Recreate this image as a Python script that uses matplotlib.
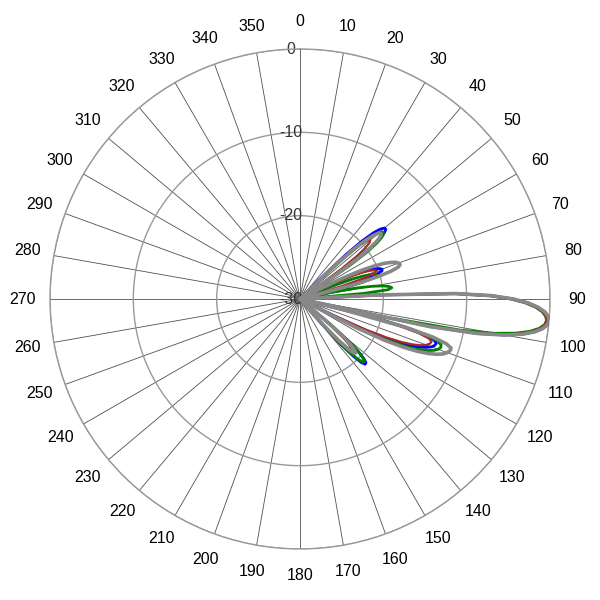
import numpy as np
import matplotlib
matplotlib.use('Agg')
import matplotlib.pyplot as plt
import matplotlib.transforms as mtrans

plt.rcParams['font.family'] = ['Liberation Sans', 'DejaVu Sans']

# azimuth in degrees (clockwise from top), level in dB
angles = np.arange(42, 143)

blue_db = [-30, -30, -30, -26.3, -22.2, -19.7, -18.1, -17.2, -16.75, -16.75,
           -17.2, -18.1, -19.7, -22.2, -26.3, -30, -30, -30, -30, -30,
           -30, -30, -27.0, -24.35, -22.5, -21.2, -20.35, -19.8, -19.53, -19.58,
           -20.2, -21.5, -23.8, -27.8, -30, -30, -30, -30, -30, -30,
           -30, -30, -30, -30, -30, -20.7, -11.3, -7.0, -4.4, -2.6,
           -1.4, -0.6, -0.15, 0, -0.17, -0.7, -1.6, -3.0, -5.1, -8.3,
           -14.1, -30, -23.0, -17.4, -14.6, -13.2, -12.8, -12.9, -13.2, -13.8,
           -14.6, -15.8, -17.4, -19.7, -23.0, -28.9, -30, -30, -30, -30,
           -30, -30, -30, -30, -30, -30, -30, -29.7, -25.0, -22.3,
           -20.6, -19.55, -19.0, -18.93, -19.4, -20.6, -22.65, -26.2, -30, -30,
           -30]

green_db = [-30, -30, -30, -30, -26.8, -22.7, -20.2, -18.65, -17.7, -17.25,
            -17.25, -17.7, -18.65, -20.2, -22.7, -26.8, -30, -30, -30, -30,
            -30, -30, -30, -30, -30, -28.6, -25.4, -23.3, -21.9, -21.0,
            -20.5, -20.3, -20.75, -22.15, -24.9, -30, -25.9, -23.05, -21.2, -19.95,
            -19.2, -18.9, -19.4, -22.35, -30, -21.0, -11.56, -7.3, -4.7, -2.93,
            -1.7, -0.9, -0.45, -0.3, -0.49, -1.09, -2.14, -3.8, -6.3, -10.5,
            -20.1, -29.8, -20.4, -16.4, -14.1, -12.8, -12.2, -12.13, -12.35, -12.8,
            -13.5, -14.5, -15.85, -17.75, -20.45, -24.7, -30, -30, -30, -30,
            -30, -30, -30, -30, -30, -30, -30, -28.8, -24.7, -22.2,
            -20.65, -19.7, -19.25, -19.28, -19.9, -21.2, -23.5, -27.5, -30, -30,
            -30]

red_db = [-30, -30, -30, -28.0, -23.9, -21.5, -20.06, -19.25, -19.0, -19.25,
          -20.06, -21.5, -23.9, -28.0, -30, -30, -30, -30, -30, -30,
          -30, -30, -28.5, -25.3, -23.2, -21.8, -20.9, -20.37, -20.2, -20.64,
          -22.04, -24.8, -30, -30, -30, -30, -30, -30, -30, -30,
          -30, -30, -30, -30, -30, -21.0, -11.56, -7.3, -4.7, -2.93,
          -1.7, -0.9, -0.45, -0.3, -0.47, -0.99, -1.9, -3.3, -5.4, -8.6,
          -14.4, -30, -23.6, -18.0, -15.24, -13.84, -13.4, -13.52, -13.89, -14.5,
          -15.45, -16.8, -18.65, -21.3, -25.8, -30, -30, -30, -30, -30,
          -30, -30, -30, -30, -30, -30, -30, -30, -28.0, -24.85,
          -22.97, -21.88, -21.36, -21.39, -22.12, -23.75, -26.7, -30, -30, -30,
          -30]

grey_db = [-30, -30, -30, -30, -24.7, -21.6, -19.65, -18.4, -17.7, -17.5,
           -17.7, -18.4, -19.65, -21.6, -24.7, -30, -30, -30, -30, -30,
           -30, -27.5, -24.2, -21.9, -20.3, -19.1, -18.3, -17.7, -17.4, -17.3,
           -17.6, -18.55, -20.3, -23.4, -29, -30, -30, -30, -30, -30,
           -30, -30, -30, -30, -30, -20.7, -11.3, -7.0, -4.4, -2.6,
           -1.4, -0.6, -0.15, 0, -0.17, -0.7, -1.6, -3.0, -5.1, -8.3,
           -14.1, -30, -24.1, -16.8, -13.4, -11.65, -10.95, -10.95, -11.2, -11.6,
           -12.3, -13.25, -14.55, -16.3, -18.7, -22.4, -29.2, -30, -30, -30,
           -30, -30, -30, -30, -30, -30, -30, -29.3, -25.6, -23.3,
           -21.9, -21.1, -20.7, -20.85, -21.6, -23.1, -25.7, -30, -30, -30,
           -30]

r_ticks = [-30, -20, -10, 0]
theta_labels = [str(a) for a in range(0, 360, 10)]

fig = plt.figure(figsize=(6, 6), dpi=100)
ax = fig.add_axes([50 / 600, 51 / 600, 500 / 600, 500 / 600], projection='polar')
ax.set_theta_zero_location('N')
ax.set_theta_direction(-1)
ax.set_ylim(-30, 0)

ax.set_xticks(np.deg2rad(np.arange(0, 360, 10)))
ax.set_xticklabels([])
ax.set_yticks(r_ticks)
ax.set_yticklabels([])
ax.xaxis.grid(True, color='#505050', lw=0.6)
ax.yaxis.grid(True, color='#999999', lw=1.0)
ax.spines['polar'].set_color('#999999')
ax.spines['polar'].set_linewidth(1.0)

th = np.deg2rad(angles)
ax.plot(th, blue_db, color='#0000ff', lw=2.0, zorder=3)
ax.plot(th, green_db, color='#008000', lw=2.0, zorder=3)
ax.plot(th, red_db, color='#a52a2a', lw=1.6, zorder=3)
ax.plot(th, grey_db, color='#888888', lw=2.6, zorder=4)

# angle labels around the rim
for a, lab in zip(range(0, 360, 10), theta_labels):
    t = np.deg2rad(a)
    ax.text(0.5 + 0.554 * np.sin(t), 0.5 + 0.554 * np.cos(t), lab,
            transform=ax.transAxes, ha='center', va='center',
            fontsize=11.5, color='black', clip_on=False)

# radial labels along the 0 spoke
off = mtrans.offset_copy(ax.transData, fig=fig, x=-9, y=0, units='dots')
for r in r_ticks:
    ax.text(0, r, str(r), transform=off, ha='center', va='center',
            fontsize=11.5, color='#333333', zorder=2)

fig.savefig('out.png', dpi=100)
